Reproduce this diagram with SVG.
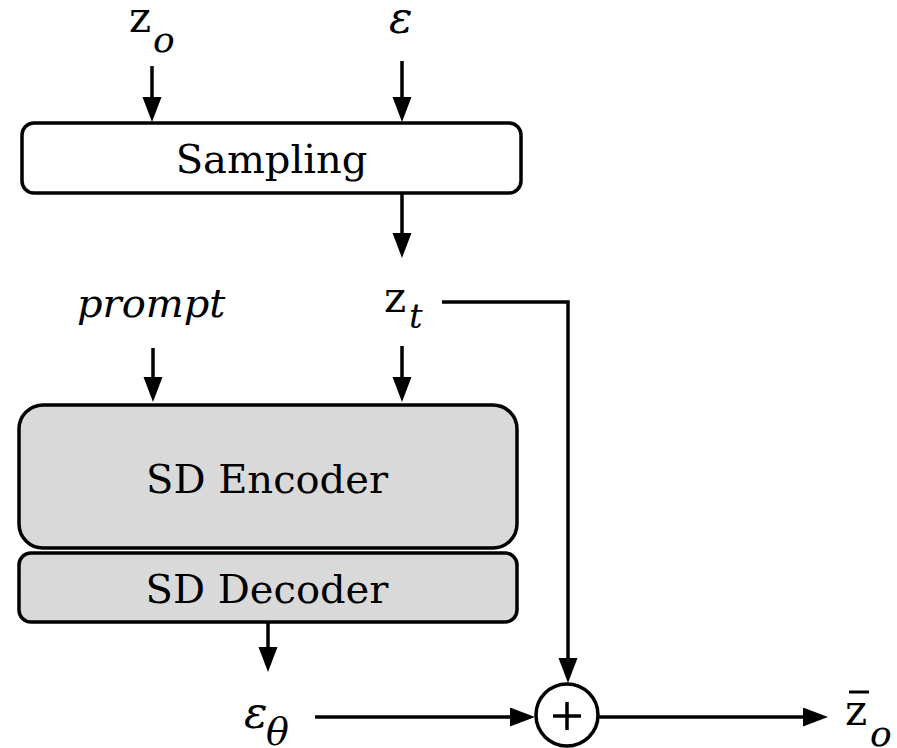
<svg xmlns="http://www.w3.org/2000/svg" width="897" height="748" viewBox="0 0 897 748">
<style>
.box{stroke:#000;stroke-width:3.5}
.lbl{font-family:"DejaVu Serif",Georgia,serif;font-size:40px;fill:#000}
.m{font-family:"DejaVu Serif",Georgia,serif;font-style:italic;fill:#000}
.u{font-family:"DejaVu Serif",Georgia,serif;fill:#000}
.c{fill:none;stroke:#000;stroke-width:3.5}
</style>
<defs>
<marker id="ah" markerUnits="userSpaceOnUse" markerWidth="26" markerHeight="20" refX="3" refY="9.5" orient="auto">
<path d="M0,0 L25,9.5 L0,19 z" fill="#000"/>
</marker>
</defs>
<rect width="897" height="748" fill="#fff"/>
<g id="sampling">
<rect class="box" x="22" y="123" width="499" height="70" rx="12" fill="#fff"/>
<text class="lbl" x="271.5" y="173" text-anchor="middle">Sampling</text>
</g>
<g id="encoder">
<rect class="box" x="19" y="405" width="498" height="143" rx="24" fill="#d9d9d9"/>
<text class="lbl" x="267" y="493" text-anchor="middle">SD Encoder</text>
</g>
<g id="decoder">
<rect class="box" x="19" y="553" width="498" height="69" rx="12" fill="#d9d9d9"/>
<text class="lbl" x="267" y="603" text-anchor="middle">SD Decoder</text>
</g>
<g id="sum">
<circle cx="567" cy="715" r="31" fill="#fff" stroke="#000" stroke-width="3.5"/>
<path d="M553,716 H581 M567,702 V730" stroke="#000" stroke-width="3.5"/>
</g>
<g id="label-zo"><text class="u" x="129" y="32" font-size="42">z</text><text class="m" x="153" y="52" font-size="36">o</text></g>
<g id="label-eps"><text class="m" x="389" y="33" font-size="44">ε</text></g>
<g id="label-prompt"><text class="m" x="77" y="317" font-size="40">prompt</text></g>
<g id="label-zt"><text class="u" x="384" y="312" font-size="42">z</text><text class="m" x="409" y="328" font-size="34">t</text></g>
<g id="label-epstheta"><text class="m" x="244" y="728" font-size="44">ε</text><text class="m" x="266" y="745" font-size="38">θ</text></g>
<g id="label-zbar"><text class="u" x="845" y="725" font-size="42">z</text><path d="M849,692 H869" stroke="#000" stroke-width="3"/><text class="m" x="870" y="746" font-size="36">o</text></g>
<g id="connectors">
<path class="c" d="M152,66 V100" marker-end="url(#ah)"/>
<path class="c" d="M402,61 V100" marker-end="url(#ah)"/>
<path class="c" d="M402,193 V236" marker-end="url(#ah)"/>
<path class="c" d="M153,348 V380" marker-end="url(#ah)"/>
<path class="c" d="M402,346 V380" marker-end="url(#ah)"/>
<path class="c" d="M268,622 V650" marker-end="url(#ah)"/>
<path class="c" d="M442,302 H568 V661" marker-end="url(#ah)"/>
<path class="c" d="M315,717 H513" marker-end="url(#ah)"/>
<path class="c" d="M598,717 H806" marker-end="url(#ah)"/>
</g>
</svg>
